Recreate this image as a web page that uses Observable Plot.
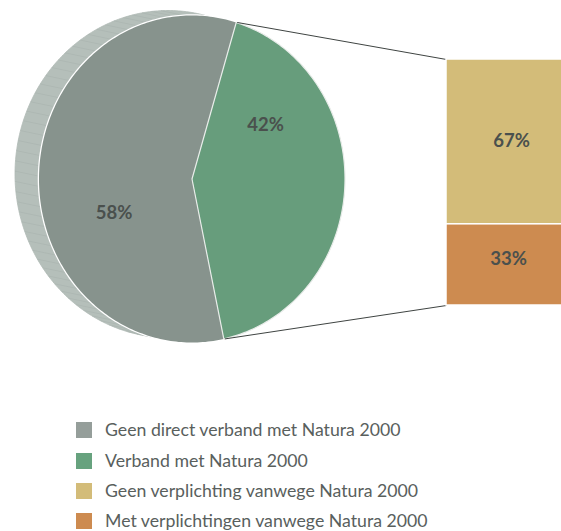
<!DOCTYPE html>
<html>
<head>
<meta charset="utf-8">
<script src="https://cdn.jsdelivr.net/npm/d3@7"></script>
<script src="https://cdn.jsdelivr.net/npm/@observablehq/plot@0.6"></script>
<style>
  html, body { margin: 0; padding: 0; background: #fff; }
  body { width: 561px; height: 531px; overflow: hidden; font-family: Lato, "Open Sans", sans-serif; }
  #chart svg { display: block; }
  #legend { padding-top: 5px; padding-left: 76px; }
  .row { display: flex; align-items: center; height: 30.4px; }
  .sw { width: 16px; height: 16px; flex: none; }
  .lab { margin-left: 13px; font-size: 17.7px; color: #59605d; line-height: 16px; white-space: nowrap; }
</style>
</head>
<body>
<div id="chart"></div>
<div id="legend"></div>
<script>
// ---- data ----
const mainCategories = ["Geen direct verband met Natura 2000", "Verband met Natura 2000"];
const mainShares = [58, 42];
const mainLabels = ["58%", "42%"];
const subCategories = ["Geen verplichting vanwege Natura 2000", "Met verplichtingen vanwege Natura 2000"];
const subShares = [67, 33];
const subLabels = ["67%", "33%"];
const mainColors = ["#87938d", "#679d7c"];
const subColors = ["#d3bc79", "#cd8b50"];
const legendColors = ["#959e9a", "#67a27e", "#d3bc79", "#cd8b50"];

// ---- layout ----
const W = 561, H = 410;
const cx = 191.5, cy = 178.5, rx = 153, ry = 163.5;
const depthX = -24, depthY = -5;
const greenStart = 16.8; // degrees clockwise from top
const rad = d => d * Math.PI / 180;
const pt = (deg, f = 1, ox = 0, oy = 0) => ({x: cx + ox + rx * f * Math.sin(rad(deg)), y: cy + oy - ry * f * Math.cos(rad(deg))});

const greenSpan = mainShares[1] / d3.sum(mainShares) * 360;
const sliceAngles = [
  [greenStart + greenSpan, greenStart + 360],  // gray
  [greenStart, greenStart + greenSpan]         // green
];
function slicePoly(a0, a1) {
  const pts = [{x: cx, y: cy}];
  const n = Math.ceil((a1 - a0) / 1);
  for (let i = 0; i <= n; i++) pts.push(pt(a0 + (a1 - a0) * i / n));
  pts.push({x: cx, y: cy});
  return pts;
}
const backPts = d3.range(0, 361, 1).map(a => pt(a, 1, depthX, depthY));
const stripes = d3.range(181, 360, 3.6).map(a => {
  const p = pt(a), q = pt(a, 1, depthX, depthY);
  return {x1: p.x, y1: p.y, x2: q.x, y2: q.y};
});
const frontOutline = d3.range(0, 361, 1).map(a => pt(a));

const pTop = pt(sliceAngles[1][0]);
const pBot = pt(sliceAngles[1][1]);
const barX1 = 446, barX2 = 566, barTop = 59, barBot = 305;
const subTotal = d3.sum(subShares);
let cum = 0;
const bars = subShares.map((v, i) => {
  const y1 = barTop + cum / subTotal * (barBot - barTop);
  cum += v;
  const y2 = barTop + cum / subTotal * (barBot - barTop);
  return {y1, y2, fill: subColors[i], label: subLabels[i]};
});
const links = [
  {x1: pTop.x + 1, y1: pTop.y, x2: barX1, y2: barTop},
  {x1: pBot.x + 1, y1: pBot.y, x2: barX1, y2: barBot}
];
const pieLabels = [
  {x: cx - 78, y: 213, text: mainLabels[0]},
  {x: 265, y: 125, text: mainLabels[1]}
];
const barLabels = [
  {x: 511, y: (bars[0].y1 + bars[0].y2) / 2 - 1, text: bars[0].label},
  {x: 508, y: (bars[1].y1 + bars[1].y2) / 2 - 6, text: bars[1].label}
];

const chart = Plot.plot({
  width: W, height: H,
  margin: 0,
  x: {domain: [0, W], range: [0, W], axis: null},
  y: {domain: [0, H], range: [0, H], axis: null},
  style: {background: "transparent"},
  marks: [
    Plot.line(backPts, {x: "x", y: "y", fill: "#b5bfba", stroke: "#b0bab5", strokeWidth: 0.8}),
    Plot.link(stripes, {x1: "x1", y1: "y1", x2: "x2", y2: "y2", stroke: "#a7b1ad", strokeWidth: 0.5}),
    Plot.line(frontOutline, {x: "x", y: "y", fill: "white", stroke: "white", strokeWidth: 2.5}),
    Plot.line(slicePoly(...sliceAngles[0]), {x: "x", y: "y", fill: mainColors[0], stroke: "none"}),
    Plot.line(slicePoly(...sliceAngles[1]), {x: "x", y: "y", fill: mainColors[1], stroke: "none"}),
    Plot.line(slicePoly(...sliceAngles[1]), {x: "x", y: "y", fill: "none", stroke: "#e8ece9", strokeWidth: 1.2}),
    Plot.link(links, {x1: "x1", y1: "y1", x2: "x2", y2: "y2", stroke: "#3f4442", strokeWidth: 1}),
    Plot.rect(bars, {x1: barX1, x2: barX2, y1: "y1", y2: "y2", fill: "fill", stroke: "white", strokeWidth: 1.5}),
    Plot.text(pieLabels, {x: "x", y: "y", text: "text", fontSize: 18.5, fontWeight: "bold", fill: "#4a504d", fontFamily: "Lato"}),
    Plot.text(barLabels, {x: "x", y: "y", text: "text", fontSize: 18.5, fontWeight: "bold", fill: "#4a504d", fontFamily: "Lato"})
  ]
});
document.getElementById("chart").appendChild(chart);

// ---- legend ----
const legend = document.getElementById("legend");
[...mainCategories, ...subCategories].forEach((name, i) => {
  const row = document.createElement("div");
  row.className = "row";
  const sw = document.createElement("div");
  sw.className = "sw";
  sw.style.background = legendColors[i];
  const lab = document.createElement("div");
  lab.className = "lab";
  lab.textContent = name;
  row.appendChild(sw); row.appendChild(lab);
  legend.appendChild(row);
});
</script>
</body>
</html>
